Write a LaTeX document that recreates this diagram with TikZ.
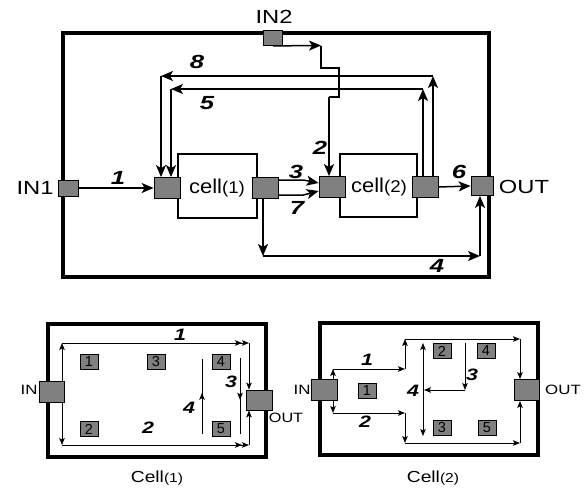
\documentclass[tikz,border=0pt]{standalone}
\usepackage{fontspec}
\setmainfont{Liberation Sans}
\usetikzlibrary{arrows.meta,calc}
\newcommand{\hs}[2]{\scalebox{#1}[1]{#2}}
\definecolor{sqgray}{RGB}{128,128,128}
\begin{document}
\begin{tikzpicture}[x=1pt,y=-1pt,
  port/.style={draw=black,fill=sqgray,line width=0.8pt,inner sep=0pt,minimum width=#1},
  bigsq/.style={port=26pt,minimum height=21pt},
  iosq/.style={port=20pt,minimum height=16pt},
  numsq/.style={port=18pt,minimum height=15pt,font=\fontsize{14.5}{14.5}\selectfont},
  mtxt/.style={inner sep=0pt,font=\fontsize{19}{19}\selectfont},
  mlab/.style={inner sep=0pt,font=\fontsize{19}{19}\selectfont\bfseries\itshape},
  slab/.style={inner sep=0pt,font=\fontsize{16.5}{16.5}\selectfont\bfseries\itshape},
  stxt/.style={inner sep=0pt,font=\fontsize{13.5}{13.5}\selectfont},
  mline/.style={line width=1.5pt},
  marr/.style={line width=1.5pt,-{Stealth[length=12pt,width=10pt,inset=3pt]}},
  sline/.style={line width=0.9pt},
  sarr/.style={line width=0.9pt,-{Stealth[length=7pt,width=5.5pt,inset=1.5pt]}},
  sdbl/.style={line width=0.9pt,-{Stealth[length=7pt,width=5.5pt,inset=1.5pt]Stealth[length=7pt,width=5.5pt,inset=1.5pt]}},
  sboth/.style={line width=0.9pt,{Stealth[length=7pt,width=5.5pt,inset=1.5pt]}-{Stealth[length=7pt,width=5.5pt,inset=1.5pt]}},
  frame/.style={line width=3.5pt},
  cellbox/.style={line width=1.3pt}
]
\useasboundingbox (0,0) rectangle (587,488);

% ===== main diagram =====
\draw[frame] (63,33) rectangle (489,277);
\draw[cellbox] (178,154) rectangle (257,218);
\draw[cellbox] (340,154) rectangle (417,217);

\node[iosq] (in1) at (68,188) {};
\node[iosq,minimum width=19pt,minimum height=15pt] (in2) at (273,38) {};
\node[bigsq] (c1in) at (167,188) {};
\node[bigsq] (c1out) at (265,188) {};
\node[bigsq] (c2in) at (332,187) {};
\node[bigsq] (c2out) at (425,187) {};
\node[port=22pt,minimum height=19pt] (out) at (482,186) {};

\node[mtxt] (in1t) at (35,188) {\hs{1.25}{IN1}};
\node[mtxt] (in2t) at (274,17) {\hs{1.25}{IN2}};
\node[mtxt] (outt) at (524,187) {\hs{1.25}{OUT}};
\node[mtxt,font=\fontsize{20}{20}\selectfont] (c1t) at (217,188) {\hs{1.1}{cell{\fontsize{17}{17}\selectfont(1)}}};
\node[mtxt,font=\fontsize{20}{20}\selectfont] (c2t) at (379,187) {\hs{1.1}{cell{\fontsize{17}{17}\selectfont(2)}}};

% 1
\draw[marr] (in1.east) -- (c1in.west);
% 8
\coordinate (p8a) at (433,76);
\coordinate (p8b) at (161,76);
\draw[marr] (c2out.north -| p8a) -- (p8a);
\draw[marr] (p8a) -- (p8b);
\draw[marr] (p8b) -- (p8b |- c1in.north);
% 5
\coordinate (p5a) at (423,89);
\coordinate (p5b) at (171,89);
\draw[marr] (c2out.north -| p5a) -- (p5a);
\draw[marr] (p5a) -- (p5b);
\draw[marr] (p5b) -- (p5b |- c1in.north);
% 2
\coordinate (q1) at (321,45.5);
\coordinate (q2) at (321,68);
\coordinate (q3) at (339,68);
\coordinate (q4) at (339,97);
\coordinate (q5) at (329,97);
\draw[marr] (in2.south) -- (q1);
\draw[mline] (q1) -- (q2) -- (q3) -- (q4) -- (q5);
\draw[marr] (q5) -- (q5 |- c2in.north);
% 3 and 7
\draw[marr] ([yshift=8pt]c1out.east) -- ++(25,0) -- ([yshift=4pt]c2in.west);
\draw[marr] ([yshift=-7pt]c1out.east) -- ++(25,0) -- ([yshift=-4pt]c2in.west);
% 6
\draw[marr] (c2out.east) -- (out.west);
% 4
\coordinate (p4a) at (263,256);
\coordinate (p4b) at (480,256);
\draw[marr] (c1out.south -| p4a) -- (p4a);
\draw[marr] (p4a) -- (p4b);
\draw[marr] (p4b) -- (p4b |- out.south);

\node[mlab] (l1) at (118,178) {\hs{1.35}{1}};
\node[mlab] (l8) at (197,62) {\hs{1.35}{8}};
\node[mlab] (l5) at (207,103) {\hs{1.35}{5}};
\node[mlab] (l2) at (320,148) {\hs{1.35}{2}};
\node[mlab] (l3) at (296,172) {\hs{1.35}{3}};
\node[mlab] (l7) at (297,208) {\hs{1.35}{7}};
\node[mlab] (l6) at (459,172) {\hs{1.35}{6}};
\node[mlab] (l4) at (437,266) {\hs{1.35}{4}};

% ===== Cell(1) =====
\draw[frame] (48,324) rectangle (266,457);
\node[port=25pt,minimum height=21pt] (ain) at (52,392) {};
\node[port=26pt,minimum height=20pt] (aout) at (259,400) {};
\node[numsq] (a1) at (89,362) {1};
\node[numsq] (a3) at (156,362) {3};
\node[numsq] (a4) at (221,362) {4};
\node[numsq] (a2) at (89,429) {2};
\node[numsq] (a5) at (221,429) {5};
\node[stxt] (aint) at (29,390) {\hs{1.25}{IN}};
\node[stxt] (aoutt) at (286,418) {\hs{1.2}{OUT}};

\coordinate (b1) at (62,343);
\coordinate (b2) at (62,445);
\coordinate (b3) at (249,343);
\coordinate (b4) at (249,445);
\draw[sarr] (ain.north -| b1) -- (b1);
\draw[sarr] (ain.south -| b2) -- (b2);
\draw[sdbl] (b1) -- (b3);
\draw[sarr] (b3) -- (b3 |- aout.north);
\draw[sdbl] (b2) -- (b4);
\draw[sarr] (b4) -- (b4 |- aout.south);
\coordinate (c4t) at (202,359);
\coordinate (c4b) at (202,434);
\draw[sline] (c4b) -- (c4t);
\draw[sarr] (c4b) -- ($(c4b)!0.55!(c4t)$);
\coordinate (c3t) at (240,358);
\coordinate (c3b) at (240,434);
\draw[sline] (c3t) -- (c3b);
\draw[sarr] (c3t) -- ($(c3t)!0.55!(c3b)$);

\node[slab] (k1) at (180,335) {\hs{1.3}{1}};
\node[slab] (k2) at (148,428) {\hs{1.3}{2}};
\node[slab] (k4) at (189,408) {\hs{1.3}{4}};
\node[slab] (k3) at (231,382) {\hs{1.3}{3}};
\node[inner sep=0pt,font=\fontsize{16}{16}\selectfont] (cap1) at (157,478) {\hs{1.2}{Cell{\fontsize{13}{13}\selectfont(1)}}};

% ===== Cell(2) =====
\draw[frame] (320,323) rectangle (538,455);
\node[port=26pt,minimum height=21pt] (bin) at (324,390) {};
\node[port=25pt,minimum height=21pt] (bout) at (527,390) {};
\node[numsq] (e1) at (367,391) {1};
\node[numsq] (e2) at (442,351) {2};
\node[numsq] (e4) at (486,351) {4};
\node[numsq] (e3) at (442,428) {3};
\node[numsq] (e5) at (487,428) {5};
\node[stxt] (bint) at (302,390) {\hs{1.25}{IN}};
\node[stxt] (boutt) at (563,390) {\hs{1.25}{OUT}};

\coordinate (d1) at (333,369);
\coordinate (d2) at (333,413);
\coordinate (d3) at (405,369);
\coordinate (d4) at (405,339);
\coordinate (d5) at (520,339);
\coordinate (d6) at (405,413);
\coordinate (d7) at (405,443);
\coordinate (d8) at (520,443);
\draw[sarr] (bin.north -| d1) -- (d1);
\draw[sarr] (bin.south -| d2) -- (d2);
\draw[sarr] (d1) -- (d3);
\draw[sarr] (d3) -- (d4);
\draw[sarr] (d4) -- (d5);
\draw[sarr] (d5) -- (d5 |- bout.north);
\draw[sarr] (d2) -- (d6);
\draw[sarr] (d6) -- (d7);
\draw[sarr] (d7) -- (d8);
\draw[sarr] (d8) -- (d8 |- bout.south);
\coordinate (f1) at (423,343);
\coordinate (f2) at (423,436);
\draw[sboth] (f1) -- (f2);
\coordinate (g1) at (465,343);
\coordinate (g2) at (465,390);
\coordinate (g3) at (424,390);
\draw[sarr] (g1) -- (g2);
\draw[sarr] (g2) -- (g3);

\node[slab] (m1) at (367,360) {\hs{1.3}{1}};
\node[slab] (m2) at (365,422) {\hs{1.3}{2}};
\node[slab] (m4) at (413,391) {\hs{1.3}{4}};
\node[slab] (m3) at (472,375) {\hs{1.3}{3}};
\node[inner sep=0pt,font=\fontsize{16}{16}\selectfont] (cap2) at (433,478) {\hs{1.2}{Cell{\fontsize{13}{13}\selectfont(2)}}};
\end{tikzpicture}
\end{document}
